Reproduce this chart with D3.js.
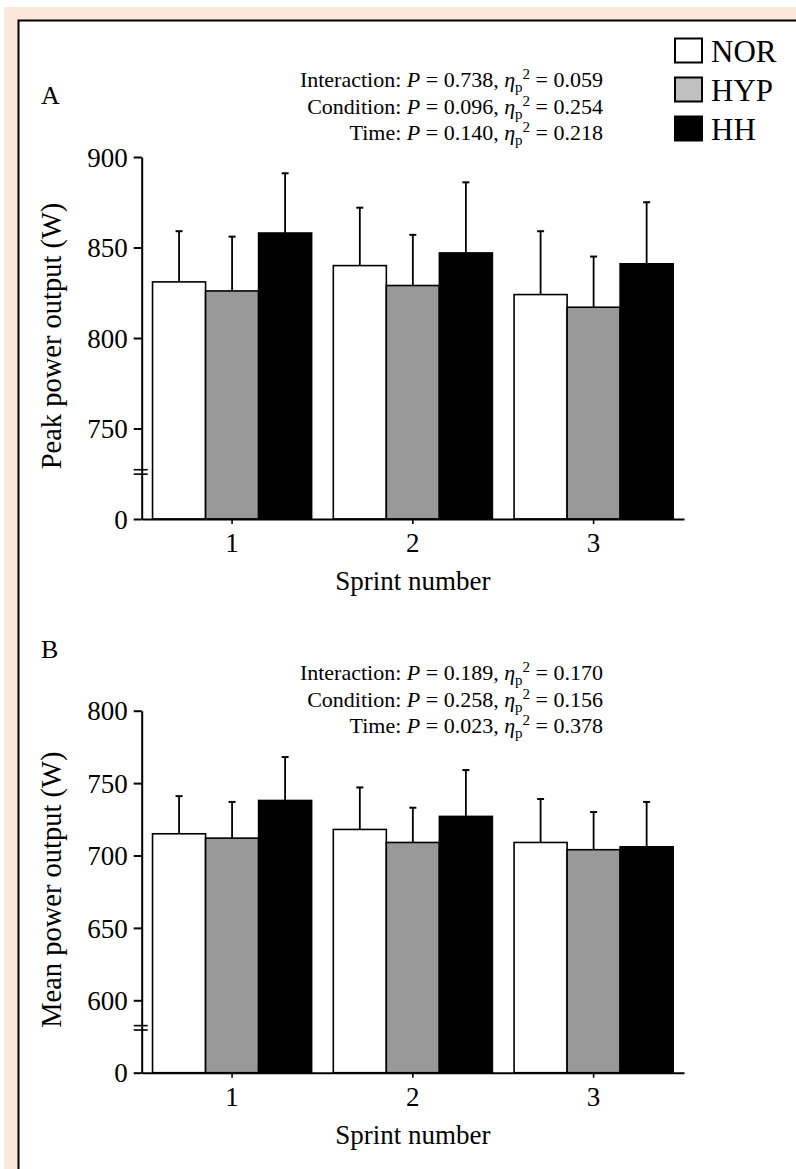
<!DOCTYPE html>
<html>
<head>
<meta charset="utf-8">
<script src="https://cdn.jsdelivr.net/npm/d3@7"></script>
<style>
  body { margin: 0; background: #fff; }
  svg text { font-family: "Liberation Serif", "Times New Roman", serif; fill: #000; }
</style>
</head>
<body>
<svg id="chart" width="796" height="1169"></svg>
<script>
// sprint groups and conditions
let sprints = ["1", "2", "3"];
let conditions = ["NOR", "HYP", "HH"];
let condFill = ["#ffffff", "#999999", "#000000"];
let legendFill = ["#ffffff", "#c0c0c0", "#000000"];

// panel A: peak power output (W), one array per condition, sprint 1..3
let peakNOR = [831, 840, 824];
let peakHYP = [826, 829, 817];
let peakHH = [858, 847, 841];
let peakNORsd = [28, 32, 35];
let peakHYPsd = [30, 28, 28];
let peakHHsd = [33, 39, 34];
let peakTicks = [700, 750, 800, 850, 900];
let peakTickLabels = ["0", "750", "800", "850", "900"];
let peakStats = [
    ["Interaction", "0.738", "0.059"],
    ["Condition", "0.096", "0.254"],
    ["Time", "0.140", "0.218"]
];

// panel B: mean power output (W)
let meanNOR = [715, 718, 709];
let meanHYP = [712, 709, 704];
let meanHH = [738, 727, 706];
let meanNORsd = [26, 29, 30];
let meanHYPsd = [25, 24, 26];
let meanHHsd = [30, 32, 31];
let meanTicks = [550, 600, 650, 700, 750, 800];
let meanTickLabels = ["0", "600", "650", "700", "750", "800"];
let meanStats = [
    ["Interaction", "0.189", "0.170"],
    ["Condition", "0.258", "0.156"],
    ["Time", "0.023", "0.378"]
];

let svg = d3.select("#chart");

// page frame
svg.append("rect").attr("x", 4).attr("y", 7).attr("width", 800).attr("height", 1200).attr("fill", "#fbe8da");
svg.append("rect").attr("x", 18.5).attr("y", 20.5).attr("width", 800).attr("height", 1200)
    .attr("fill", "#fff").attr("stroke", "#000").attr("stroke-width", 2);

let left = 141.7;
let right = 684;

function drawPanel(opt) {
    let g = svg.append("g");

    let y = d3.scaleLinear().domain(opt.domain).range([opt.bottom, opt.top]);
    let x = d3.scaleBand().domain(sprints).range([left, right])
        .paddingInner(0.12).paddingOuter(0.06);
    let xc = d3.scaleBand().domain(conditions).range([0, x.bandwidth()]);

    let rows = [];
    conditions.forEach((c, ci) => {
        sprints.forEach((s, si) => {
            rows.push({ sprint: s, cond: c, ci: ci, mean: opt.means[ci][si], sd: opt.sds[ci][si] });
        });
    });

    // error bars (upper only)
    let err = g.selectAll(".err").data(rows).enter().append("g");
    err.append("line")
        .attr("x1", d => x(d.sprint) + xc(d.cond) + xc.bandwidth() / 2)
        .attr("x2", d => x(d.sprint) + xc(d.cond) + xc.bandwidth() / 2)
        .attr("y1", d => y(d.mean))
        .attr("y2", d => y(d.mean + d.sd))
        .attr("stroke", "#000").attr("stroke-width", 1.8);
    err.append("line")
        .attr("x1", d => x(d.sprint) + xc(d.cond) + xc.bandwidth() / 2 - 3.5)
        .attr("x2", d => x(d.sprint) + xc(d.cond) + xc.bandwidth() / 2 + 3.5)
        .attr("y1", d => y(d.mean + d.sd))
        .attr("y2", d => y(d.mean + d.sd))
        .attr("stroke", "#000").attr("stroke-width", 2);

    // bars
    g.selectAll(".bar").data(rows).enter().append("rect")
        .attr("x", d => x(d.sprint) + xc(d.cond))
        .attr("width", xc.bandwidth())
        .attr("y", d => y(d.mean))
        .attr("height", d => y(opt.domain[0]) - y(d.mean))
        .attr("fill", d => condFill[d.ci])
        .attr("stroke", "#000").attr("stroke-width", 1.6);

    // y axis
    let yAxis = d3.axisLeft(y).tickValues(opt.ticks)
        .tickFormat((d, i) => opt.tickLabels[i])
        .tickSize(8).tickSizeOuter(0).tickPadding(6);
    let ya = g.append("g").attr("transform", `translate(${left},0)`).call(yAxis);
    ya.select(".domain").attr("stroke-width", 2);
    ya.selectAll(".tick line").attr("stroke-width", 2);
    ya.selectAll(".tick text").style("font-size", "27px").attr("dy", "0.34em");

    // axis break marks
    [-2.2, 2.2].forEach(off => {
        g.append("line")
            .attr("x1", left - 8).attr("x2", left + 6)
            .attr("y1", y(opt.breakAt) + off).attr("y2", y(opt.breakAt) + off)
            .attr("stroke", "#000").attr("stroke-width", 1.6);
    });

    // x axis
    let xAxis = d3.axisBottom(x).tickSize(5).tickSizeOuter(0).tickPadding(9);
    let xa = g.append("g").attr("transform", `translate(0,${opt.bottom})`).call(xAxis);
    xa.select(".domain").attr("stroke-width", 2);
    xa.selectAll(".tick line").attr("stroke-width", 1.6);
    xa.selectAll(".tick text").style("font-size", "27px");

    g.append("text")
        .attr("x", x("2") + x.bandwidth() / 2).attr("y", opt.bottom + 71)
        .attr("text-anchor", "middle").style("font-size", "27px")
        .text("Sprint number");

    g.append("text")
        .attr("transform", `translate(61,${(opt.top + opt.bottom) / 2 - 2}) rotate(-90)`)
        .attr("text-anchor", "middle").style("font-size", "28.5px")
        .text(opt.yTitle);

    // panel letter
    g.append("text").attr("x", 41).attr("y", opt.letterY)
        .style("font-size", "26px").text(opt.letter);

    // statistics lines
    opt.stats.forEach((s, i) => {
        let t = g.append("text")
            .attr("x", 603).attr("y", opt.statsY + i * 26.6)
            .attr("text-anchor", "end").style("font-size", "22px");
        t.append("tspan").text(s[0] + ": ");
        t.append("tspan").style("font-style", "italic").text("P");
        t.append("tspan").text(" = " + s[1] + ", ");
        t.append("tspan").style("font-style", "italic").text("η");
        t.append("tspan").attr("dy", 5).style("font-size", "15px").text("p");
        t.append("tspan").attr("dy", -13).style("font-size", "15px").text("2");
        t.append("tspan").attr("dy", 8).text(" = " + s[2]);
    });
}

drawPanel({
    letter: "A", letterY: 104, statsY: 87,
    yTitle: "Peak power output (W)",
    domain: [700, 900], top: 157, bottom: 519, breakAt: 726,
    ticks: peakTicks, tickLabels: peakTickLabels,
    means: [peakNOR, peakHYP, peakHH],
    sds: [peakNORsd, peakHYPsd, peakHHsd],
    stats: peakStats
});

drawPanel({
    letter: "B", letterY: 658, statsY: 680,
    yTitle: "Mean power output (W)",
    domain: [550, 800], top: 710.7, bottom: 1072.7, breakAt: 581,
    ticks: meanTicks, tickLabels: meanTickLabels,
    means: [meanNOR, meanHYP, meanHH],
    sds: [meanNORsd, meanHYPsd, meanHHsd],
    stats: meanStats
});

// legend
let legend = svg.append("g");
conditions.forEach((c, i) => {
    legend.append("rect")
        .attr("x", 675).attr("y", 38.5 + i * 39)
        .attr("width", 27).attr("height", 24)
        .attr("fill", legendFill[i]).attr("stroke", "#000").attr("stroke-width", 2);
    legend.append("text")
        .attr("x", 711).attr("y", 62 + i * 39)
        .style("font-size", "31px").text(c);
});
</script>
</body>
</html>
